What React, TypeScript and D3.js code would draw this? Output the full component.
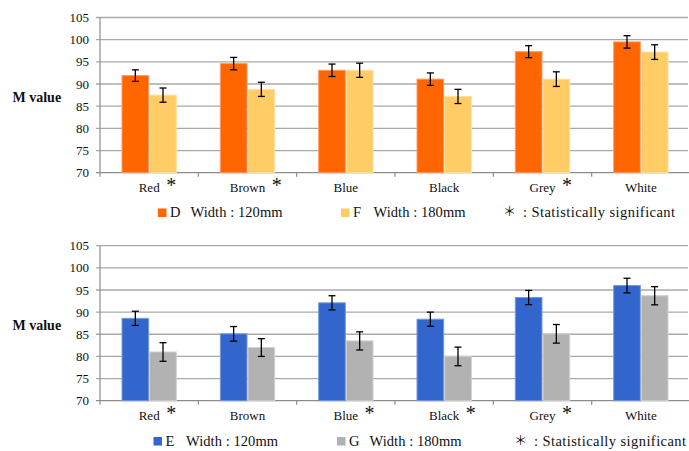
import React from "react";
import * as d3 from "d3";

const categories = ["Red", "Brown", "Blue", "Black", "Grey", "White"];
const yTicks = [70, 75, 80, 85, 90, 95, 100, 105];

const topSig = [true, true, false, false, true, false];
const dValues = [91.9, 94.6, 93.1, 91.1, 97.3, 99.5];
const dErr = [1.3, 1.4, 1.4, 1.4, 1.35, 1.4];
const fValues = [87.5, 88.8, 93.1, 87.2, 91.1, 97.2];
const fErr = [1.6, 1.6, 1.6, 1.6, 1.65, 1.65];

const bottomSig = [true, false, true, true, true, false];
const eValues = [88.6, 85.1, 92.1, 88.4, 93.3, 96.0];
const eErr = [1.6, 1.65, 1.6, 1.6, 1.6, 1.65];
const gValues = [81.0, 82.0, 83.5, 80.0, 85.1, 93.7];
const gErr = [2.1, 2.0, 2.05, 2.1, 2.1, 2.05];

const legendTop = ["D", "F"];
const legendBottom = ["E", "G"];
const legendWidths = ["Width : 120mm", "Width : 180mm"];
const sigText = ": Statistically significant";

const FONT = '"Times New Roman", Times, "Liberation Serif", "DejaVu Serif", serif';

let ctx: CanvasRenderingContext2D | null = null;
function measure(text: string, font: string) {
  if (!ctx) ctx = document.createElement("canvas").getContext("2d");
  if (!ctx) return text.length * 6;
  ctx.font = font;
  return ctx.measureText(text).width;
}

type PanelProps = {
  top: number;
  bottom: number;
  a: number[];
  aErr: number[];
  b: number[];
  bErr: number[];
  sig: boolean[];
  colors: string[];
  strokes: string[];
  names: string[];
  legendY: number;
  legendX: number[];
};

const txt = (size: number, extra: any = {}) => ({
  fontFamily: FONT,
  fontSize: size + "px",
  fill: "#111",
  ...extra,
});

function Panel(p: PanelProps) {
  const x0 = d3.scaleBand<string>().domain(categories).range([100, 690]);
  const x1 = d3
    .scaleBand<string>()
    .domain(["a", "b"])
    .range([0, x0.bandwidth()])
    .paddingOuter(0.777);
  const y = d3.scaleLinear().domain([70, 105]).range([p.bottom, p.top]);
  const series = [
    { key: "a", vals: p.a, errs: p.aErr, color: p.colors[0], stroke: p.strokes[0] },
    { key: "b", vals: p.b, errs: p.bErr, color: p.colors[1], stroke: p.strokes[1] },
  ];
  const labelFont = `13px ${FONT}`;
  const labelY = p.bottom + 19;
  return (
    <g>
      {yTicks.map((t) => (
        <g key={t}>
          <line
            x1={96}
            x2={t === 70 ? 690 : 688}
            y1={y(t)}
            y2={y(t)}
            stroke={t === 70 ? "#8c8c8c" : "#a9a9a9"}
            strokeWidth={1.3}
          />
          <text x={89} y={y(t)} dy="0.35em" textAnchor="end" style={txt(13)}>
            {t}
          </text>
        </g>
      ))}
      <line x1={100} x2={100} y1={p.top} y2={p.bottom + 4} stroke="#8c8c8c" strokeWidth={1.2} />
      {categories.map((c) => (
        <line
          key={"tk" + c}
          x1={(x0(c) as number) + x0.bandwidth()}
          x2={(x0(c) as number) + x0.bandwidth()}
          y1={p.bottom}
          y2={p.bottom + 4}
          stroke="#8c8c8c"
          strokeWidth={1.2}
        />
      ))}
      <text x={12.5} y={(p.top + p.bottom) / 2 + 2} dy="0.35em" style={txt(14, { fontWeight: "bold" })}>
        M value
      </text>
      {series.map((s) =>
        categories.map((c, i) => {
          const bx = (x0(c) as number) + (x1(s.key) as number);
          const bw = x1.bandwidth();
          const v = s.vals[i];
          const cx = bx + bw / 2;
          return (
            <g key={s.key + c}>
              <rect
                x={bx + 0.5}
                y={y(v)}
                width={bw - 1}
                height={y(70) - y(v)}
                fill={s.color}
                stroke={s.stroke}
                strokeWidth={1}
              />
              <line x1={cx} x2={cx} y1={y(v + s.errs[i])} y2={y(v - s.errs[i])} stroke="#000" strokeWidth={1.3} />
              <line x1={cx - 3.5} x2={cx + 3.5} y1={y(v + s.errs[i])} y2={y(v + s.errs[i])} stroke="#000" strokeWidth={1.3} />
              <line x1={cx - 3.5} x2={cx + 3.5} y1={y(v - s.errs[i])} y2={y(v - s.errs[i])} stroke="#000" strokeWidth={1.3} />
            </g>
          );
        })
      )}
      {categories.map((c, i) => {
        const cx = (x0(c) as number) + x0.bandwidth() / 2;
        const w = measure(c, labelFont);
        return (
          <g key={"lb" + c}>
            <text x={cx} y={labelY} textAnchor="middle" style={txt(13)}>
              {c}
            </text>
            {p.sig[i] && (
              <text x={cx + w / 2 + 6.5} y={labelY + 0.5} style={txt(20)}>
                *
              </text>
            )}
          </g>
        );
      })}
      {[0, 1].map((k) => (
        <g key={"lg" + k}>
          <rect x={p.legendX[k]} y={p.legendY - 8.5} width={8.5} height={8.5} fill={p.colors[k]} />
          <text x={p.legendX[k] + 12} y={p.legendY} style={txt(14.5)}>
            {p.names[k]}
          </text>
          <text x={p.legendX[k] + 32.5} y={p.legendY} textLength={92} lengthAdjust="spacing" style={txt(14.5)}>
            {legendWidths[k]}
          </text>
        </g>
      ))}
      <text
        x={p.legendX[2]}
        y={p.legendY - 1}
        style={{ fontFamily: "Noto Sans CJK JP, sans-serif", fontSize: "13px", fill: "#111" }}
      >
        ＊
      </text>
      <text x={p.legendX[2] + 20} y={p.legendY} textLength={152} lengthAdjust="spacing" style={txt(14.5)}>
        {sigText}
      </text>
    </g>
  );
}

export default function App() {
  return (
    <svg width={689} height={451} style={{ position: "absolute", left: 0, top: 0, background: "#fff" }}>
      <rect width={689} height={451} fill="#fff" />
      <Panel
        top={17.5}
        bottom={172.7}
        a={dValues}
        aErr={dErr}
        b={fValues}
        bErr={fErr}
        sig={topSig}
        colors={["#FF6600", "#FFCC66"]}
        strokes={["#FF9966", "#FFE0A3"]}
        names={legendTop}
        legendY={217}
        legendX={[158, 341, 503]}
      />
      <Panel
        top={245.7}
        bottom={400.7}
        a={eValues}
        aErr={eErr}
        b={gValues}
        bErr={gErr}
        sig={bottomSig}
        colors={["#3366CC", "#B2B2B2"]}
        strokes={["#7799DD", "#D0D0D0"]}
        names={legendBottom}
        legendY={445.5}
        legendX={[153.5, 337, 514]}
      />
    </svg>
  );
}
